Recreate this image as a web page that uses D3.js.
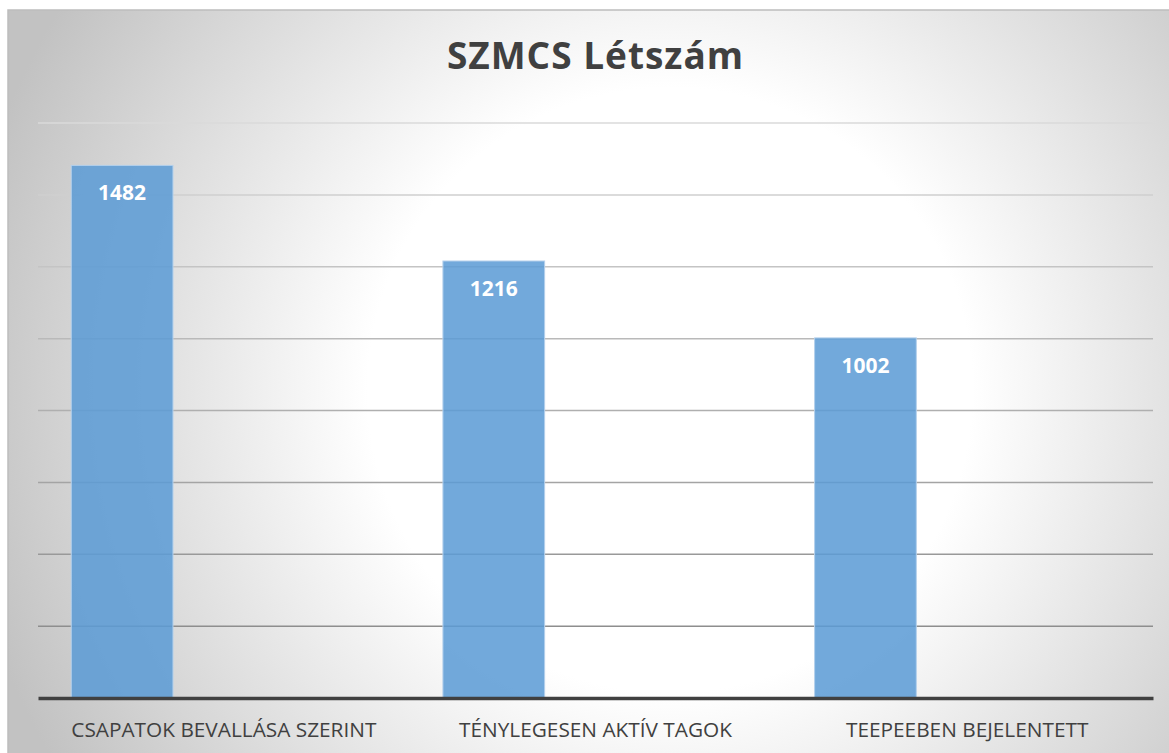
<!DOCTYPE html>
<html>
<head>
<meta charset="utf-8">
<script src="https://cdn.jsdelivr.net/npm/d3@7"></script>
<style>
  body { margin: 0; background: #fff; }
  svg { display: block; }
</style>
</head>
<body>
<svg width="1169" height="753"></svg>
<script>
var categories = ["CSAPATOK BEVALLÁSA SZERINT", "TÉNYLEGESEN AKTÍV TAGOK", "TEEPEEBEN BEJELENTETT"];
var values = [1482, 1216, 1002];
// clustered chart: only the first of three series has values
var seriesNames = ["Létszám", "Sorozat 2", "Sorozat 3"];
var yTicks = [200, 400, 600, 800, 1000, 1200, 1400, 1600];
var title = "SZMCS Létszám";

var margin = {left: 38, right: 16, top: 123, bottom: 55};
var width = 1169, height = 753;

var svg = d3.select("svg");

var defs = svg.append("defs");
var bg = defs.append("radialGradient")
    .attr("id", "bg")
    .attr("gradientUnits", "userSpaceOnUse")
    .attr("cx", 670).attr("cy", 390).attr("r", 720);
bg.append("stop").attr("offset", 0).attr("stop-color", "#ffffff");
bg.append("stop").attr("offset", 0.42).attr("stop-color", "#ffffff");
bg.append("stop").attr("offset", 1).attr("stop-color", "#c2c2c2");

// chart frame
svg.append("rect")
    .attr("x", 8).attr("y", 10)
    .attr("width", width).attr("height", height)
    .attr("fill", "url(#bg)")
    .attr("stroke", "#bdbdbd")
    .attr("stroke-width", 1.5);

var x = d3.scaleBand()
    .domain(categories)
    .range([margin.left, width - margin.right]);

var xInner = d3.scaleBand()
    .domain(seriesNames)
    .range([0, x.bandwidth()])
    .paddingInner(0)
    .paddingOuter(0.327);

var y = d3.scaleLinear()
    .domain([0, 1600])
    .range([height - margin.bottom, margin.top]);

var gridColor = d3.scaleLinear()
    .domain([1600, 200])
    .range(["#dadada", "#8e8e8e"]);

// gridlines
svg.append("g")
    .attr("class", "grid")
  .selectAll("line")
  .data(yTicks)
  .enter().append("line")
    .attr("x1", margin.left)
    .attr("x2", width - margin.right)
    .attr("y1", function(d) { return y(d); })
    .attr("y2", function(d) { return y(d); })
    .attr("stroke", function(d) { return gridColor(d); })
    .attr("stroke-width", 1.5);

// bars
var bars = svg.append("g").attr("class", "bars");
bars.selectAll("rect")
  .data(values)
  .enter().append("rect")
    .attr("x", function(d, i) { return x(categories[i]) + xInner(seriesNames[0]); })
    .attr("y", function(d) { return y(d); })
    .attr("width", xInner.bandwidth())
    .attr("height", function(d) { return y(0) - y(d); })
    .attr("fill", "#5b9bd5")
    .attr("fill-opacity", 0.86)
    .attr("stroke", "#b4d0ec")
    .attr("stroke-width", 1);

// value labels
bars.selectAll("text")
  .data(values)
  .enter().append("text")
    .attr("x", function(d, i) { return x(categories[i]) + xInner(seriesNames[0]) + xInner.bandwidth() / 2; })
    .attr("y", function(d) { return y(d) + 35; })
    .attr("text-anchor", "middle")
    .attr("fill", "#ffffff")
    .style("font-family", "'Open Sans', sans-serif")
    .style("font-weight", "bold")
    .style("font-size", "21px")
    .text(function(d) { return d; });

// x axis
var xAxis = svg.append("g")
    .attr("transform", "translate(0," + y(0) + ")")
    .call(d3.axisBottom(x).tickSize(0).tickPadding(0));
xAxis.select(".domain")
    .attr("stroke", "#404040")
    .attr("stroke-width", 3.5);
xAxis.selectAll("text")
    .attr("y", 39)
    .attr("dy", null)
    .attr("fill", "#404040")
    .style("font-family", "'Open Sans', sans-serif")
    .style("font-size", "20.8px");

// title
svg.append("text")
    .attr("x", (margin.left + width - margin.right) / 2)
    .attr("y", 69)
    .attr("text-anchor", "middle")
    .attr("fill", "#404040")
    .style("font-family", "'Open Sans', sans-serif")
    .style("font-weight", "bold")
    .style("font-size", "37px")
    .style("letter-spacing", "1px")
    .text(title);
</script>
</body>
</html>
